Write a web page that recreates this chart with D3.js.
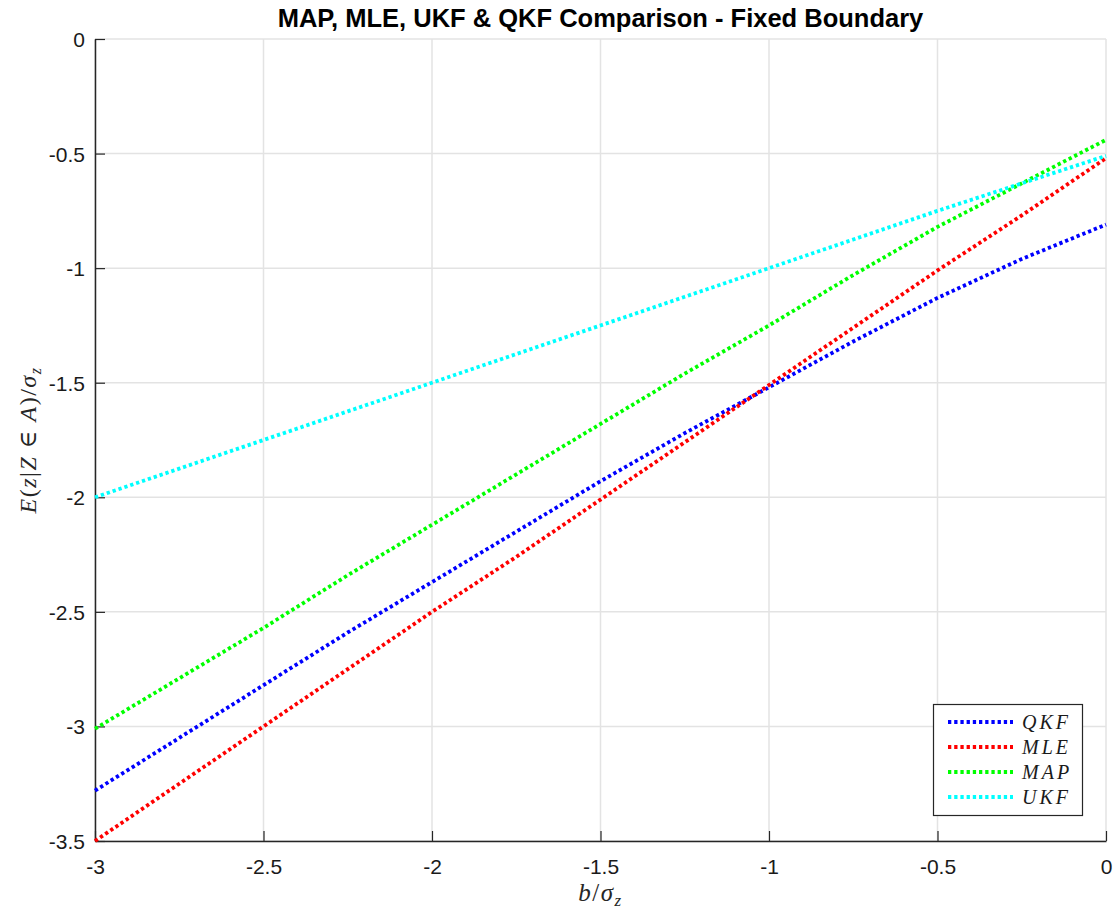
<!DOCTYPE html>
<html>
<head>
<meta charset="utf-8">
<script src="https://cdn.jsdelivr.net/npm/d3@7"></script>
<style>
  html, body { margin: 0; padding: 0; background: #fff; }
  svg { display: block; }
</style>
</head>
<body>
<svg id="chart" width="1120" height="911"></svg>
<script>
// ---- Data ----
const bValues = [-3, -2.75, -2.5, -2.25, -2, -1.75, -1.5, -1.25, -1, -0.75, -0.5, -0.25, 0];
const qkfValues = [-3.28, -3.05, -2.82, -2.59, -2.37, -2.15, -1.93, -1.72, -1.52, -1.32, -1.13, -0.96, -0.81];
const mleValues = [-3.50, -3.25, -3.00, -2.75, -2.50, -2.26, -2.01, -1.76, -1.51, -1.26, -1.01, -0.77, -0.52];
const mapValues = [-3.01, -2.79, -2.57, -2.34, -2.12, -1.90, -1.68, -1.46, -1.25, -1.03, -0.82, -0.63, -0.44];
const ukfValues = [-2.00, -1.875, -1.75, -1.625, -1.50, -1.375, -1.25, -1.125, -1.00, -0.875, -0.75, -0.63, -0.51];
const seriesNames = ["QKF", "MLE", "MAP", "UKF"];
const seriesColors = ["#0000ff", "#ff0000", "#00ff00", "#00ffff"];
const xTicks = [-3, -2.5, -2, -1.5, -1, -0.5, 0];
const yTicks = [-3.5, -3, -2.5, -2, -1.5, -1, -0.5, 0];
const titleText = "MAP, MLE, UKF & QKF Comparison - Fixed Boundary";

const seriesValues = [qkfValues, mleValues, mapValues, ukfValues];

// ---- Layout ----
const margin = { left: 95, right: 14, top: 39, bottom: 70 };
const W = 1120, H = 911;
const svg = d3.select("#chart");

const x = d3.scaleLinear().domain([-3, 0]).range([margin.left, W - margin.right]);
const y = d3.scaleLinear().domain([-3.5, 0]).range([H - margin.bottom, margin.top]);

const gridColor = "#e3e3e3";
const axisColor = "#262626";
const tickFont = "'Liberation Sans', Arial, sans-serif";

// grid
svg.append("g").selectAll("line").data(xTicks).join("line")
  .attr("x1", d => x(d)).attr("x2", d => x(d))
  .attr("y1", y(-3.5)).attr("y2", y(0))
  .attr("stroke", gridColor).attr("stroke-width", 1.5);
svg.append("g").selectAll("line").data(yTicks).join("line")
  .attr("y1", d => y(d)).attr("y2", d => y(d))
  .attr("x1", x(-3)).attr("x2", x(0))
  .attr("stroke", gridColor).attr("stroke-width", 1.5);

// axes
const fmt = d => String(d);
const xAxis = d3.axisBottom(x).tickValues(xTicks).tickSizeInner(-10).tickSizeOuter(0)
  .tickPadding(19).tickFormat(fmt);
const yAxis = d3.axisLeft(y).tickValues(yTicks).tickSizeInner(-10).tickSizeOuter(0)
  .tickPadding(10).tickFormat(fmt);

const gx = svg.append("g").attr("transform", `translate(0,${y(-3.5)})`).call(xAxis);
const gy = svg.append("g").attr("transform", `translate(${x(-3)},0)`).call(yAxis);
[gx, gy].forEach(g => {
  g.select(".domain").attr("stroke", axisColor).attr("stroke-width", 1.5);
  g.selectAll(".tick line").attr("stroke", axisColor).attr("stroke-width", 1.2);
  g.selectAll(".tick text").attr("fill", "#1a1a1a")
    .attr("font-family", tickFont).attr("font-size", 21);
});
gy.selectAll(".tick text").attr("dy", "0.36em");
gx.selectAll(".tick text").attr("dy", "0.65em");

// lines
const line = d3.line().x((d, i) => x(bValues[i])).y(d => y(d));
const plot = svg.append("g");
seriesValues.forEach((vals, k) => {
  plot.append("path")
    .datum(vals)
    .attr("d", line)
    .attr("fill", "none")
    .attr("stroke", seriesColors[k])
    .attr("stroke-width", 3.8)
    .attr("stroke-dasharray", "3.3,2.9");
});

// title
svg.append("text")
  .attr("x", (x(-3) + x(0)) / 2).attr("y", 27)
  .attr("text-anchor", "middle")
  .attr("font-family", tickFont)
  .attr("font-weight", "bold").attr("font-size", 25.5)
  .attr("fill", "#000")
  .text(titleText);

// x label: b/σ_z
const mathFont = "'Liberation Serif', 'DejaVu Serif', serif";
const xl = svg.append("text")
  .attr("x", (x(-3) + x(0)) / 2).attr("y", 901)
  .attr("text-anchor", "middle")
  .attr("font-family", mathFont).attr("font-size", 25).attr("fill", "#262626")
  .attr("letter-spacing", 1.5);
xl.append("tspan").attr("font-style", "italic").text("b");
xl.append("tspan").text("/");
xl.append("tspan").attr("font-style", "italic").text("σ");
xl.append("tspan").attr("font-style", "italic").attr("font-size", 17).attr("dy", 5).text("z");

// y label: E(z|Z ∈ A)/σ_z
const yl = svg.append("text")
  .attr("transform", `translate(36,${(y(-3.5) + y(0)) / 2}) rotate(-90)`)
  .attr("text-anchor", "middle")
  .attr("font-family", mathFont).attr("font-size", 24).attr("fill", "#262626")
  .attr("letter-spacing", 1.5);
yl.append("tspan").attr("font-style", "italic").text("E");
yl.append("tspan").text("(");
yl.append("tspan").attr("font-style", "italic").text("z");
yl.append("tspan").text("|");
yl.append("tspan").attr("font-style", "italic").text("Z");
yl.append("tspan").text(" ∈ ");
yl.append("tspan").attr("font-style", "italic").text("A");
yl.append("tspan").text(")/");
yl.append("tspan").attr("font-style", "italic").text("σ");
yl.append("tspan").attr("font-style", "italic").attr("font-size", 16).attr("dy", 5).text("z");

// legend
const lg = svg.append("g");
lg.append("rect")
  .attr("x", 933.5).attr("y", 704.5).attr("width", 149).attr("height", 111)
  .attr("fill", "#fff").attr("stroke", axisColor).attr("stroke-width", 1.2);
seriesNames.forEach((name, k) => {
  const cy = 722 + k * 25;
  lg.append("line")
    .attr("x1", 948).attr("x2", 1013).attr("y1", cy).attr("y2", cy)
    .attr("stroke", seriesColors[k]).attr("stroke-width", 3.8)
    .attr("stroke-dasharray", "3.3,2.9");
  lg.append("text")
    .attr("x", 1022).attr("y", cy + 7)
    .attr("font-family", mathFont).attr("font-style", "italic")
    .attr("font-size", 20).attr("letter-spacing", 3).attr("fill", "#1a1a1a")
    .text(name);
});
</script>
</body>
</html>
